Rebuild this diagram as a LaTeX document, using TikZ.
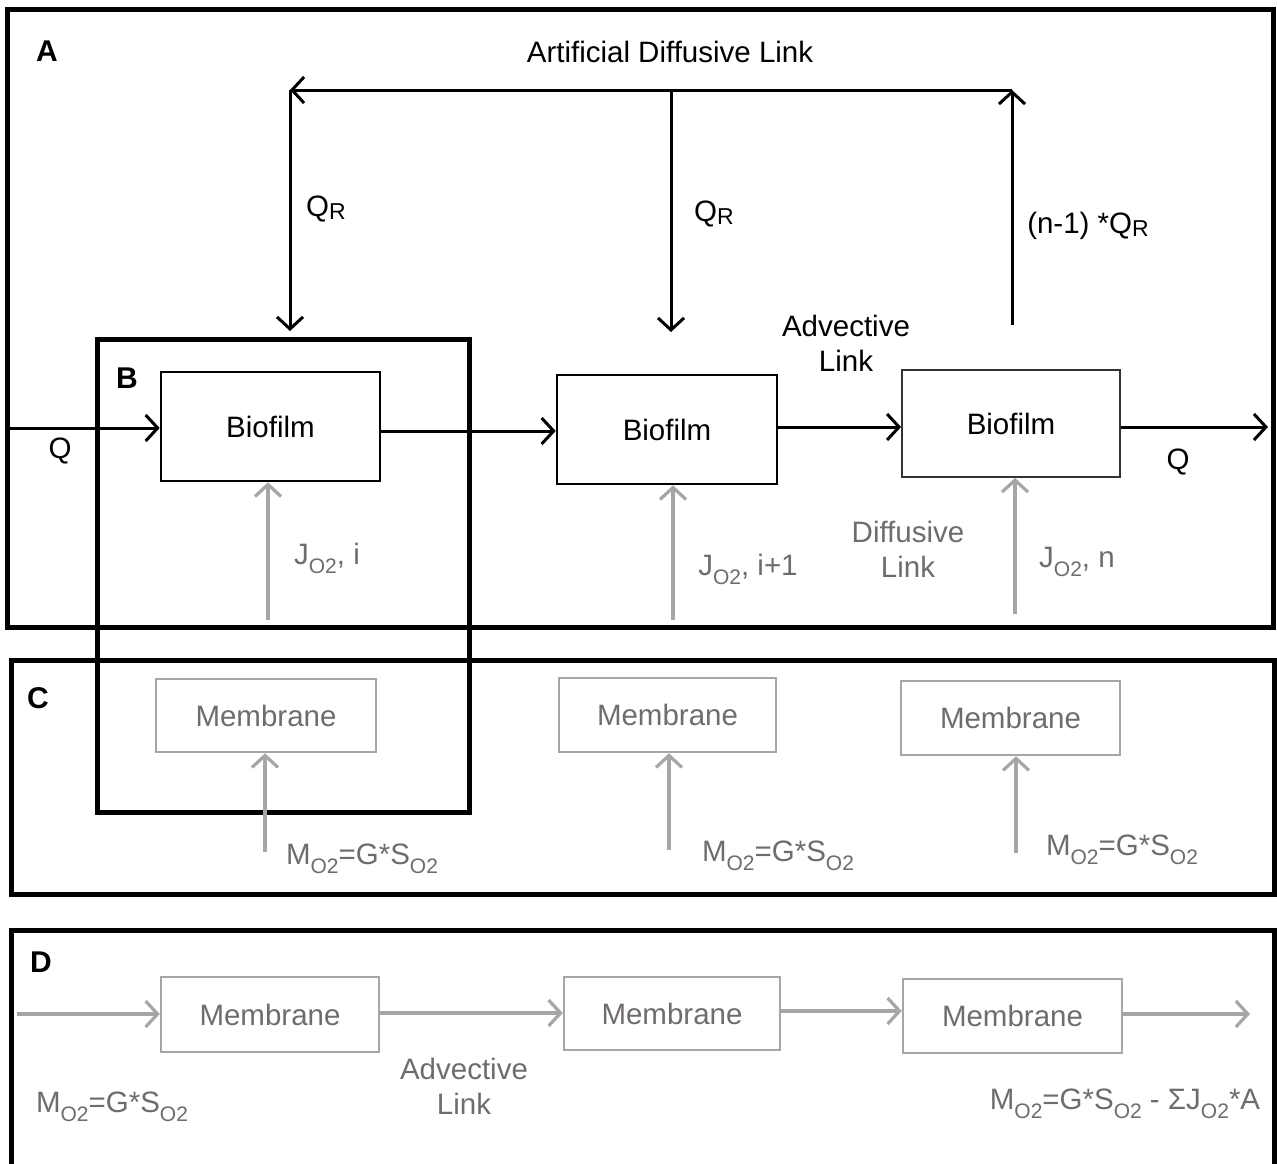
\documentclass[tikz,border=0pt]{standalone}
\usepackage{fontspec}
\setmainfont{Liberation Sans}
\usetikzlibrary{arrows.meta}
\definecolor{lgray}{HTML}{A6A6A6}
\definecolor{tgray}{HTML}{706C6C}
\newcommand{\lowsub}[1]{\raisebox{-9pt}{\fontsize{21}{21}\selectfont #1}}
\newcommand{\rsub}[1]{\raisebox{-3pt}{\fontsize{23}{23}\selectfont #1}}
\begin{document}
\begin{tikzpicture}[x=1pt,y=-1pt,
  every node/.style={font=\fontsize{29.5}{35}\selectfont, inner sep=0pt},
  panel/.style={draw, line width=5pt},
  bio/.style={draw, line width=2.6pt, minimum width=219pt, minimum height=109pt},
  mem/.style={draw=lgray, line width=2.5pt, text=tgray, minimum width=219pt, minimum height=74pt},
  barrow/.style={line width=3pt, -{Straight Barb[length=12pt,width=26pt,line width=3pt]}},
  garrow/.style={draw=lgray, line width=3.2pt, -{Straight Barb[length=12pt,width=26pt,line width=3.2pt]}},
  plabel/.style={font=\fontsize{30}{35}\selectfont\bfseries},
  glabel/.style={text=tgray, align=center},
]
\useasboundingbox (0,0) rectangle (1277,1164);
\fill[white] (0,0) rectangle (1277,1164);

% panels
\draw[panel] (7,10) rectangle (1273,627);
\draw[panel] (11,660) rectangle (1274,894);
\draw[panel] (11,930) rectangle (1274,1166);
\draw[panel] (97,339) rectangle (469,812);

\node[plabel] (lA) at (47,51) {A};
\node[plabel] (lB) at (127,378) {B};
\node[plabel] (lC) at (38,698) {C};
\node[plabel] (lD) at (41,962) {D};

% Panel A
\node (adl) at (670,52) {Artificial Diffusive Link};
\node[bio] (b1) at (270.5,426.5) {Biofilm};
\node[bio, minimum width=220pt] (b2) at (667,429.5) {Biofilm};
\node[bio, draw=black!80, line width=1.8pt, minimum width=218pt, minimum height=107pt] (b3) at (1011,423.5) {Biofilm};

\coordinate (tl) at (290,90);
\coordinate (tm) at (671,90);
\coordinate (tr) at (1012,90);
\coordinate (d1) at (290,331);
\coordinate (d2) at (671,332);
\coordinate (u3) at (1012,325);
\coordinate (qin) at (10,428);
\coordinate (qout) at (1268,427);

\draw[barrow] (tr) -- (tl);
\draw[barrow] (tl) -- (d1);
\draw[barrow] (tm) -- (d2);
\draw[barrow] (u3) -- (tr);

\node (qr1) at (326,209) {Q\rsub{R}};
\node (qr2) at (714,214) {Q\rsub{R}};
\node (qr3) at (1088,226) {(n-1) *Q\rsub{R}};

\node[align=center] (adv) at (846,343) {Advective\\Link};

\draw[barrow] (qin) -- (qin -| b1.west);
\draw[barrow] (b1.east |- 0,431) -- (b2.west |- 0,431);
\draw[barrow] (b2.east |- 0,427) -- (b3.west |- 0,427);
\draw[barrow] (b3.east |- qout) -- (qout);

\node (q1) at (60,451) {Q};
\node (q2) at (1178,462) {Q};

\coordinate (j1) at (268,620);
\coordinate (j2) at (673,620);
\coordinate (j3) at (1015,614);
\draw[garrow] (j1) -- (j1 |- b1.south);
\draw[garrow] (j2) -- (j2 |- b2.south);
\draw[garrow] (j3) -- (j3 |- b3.south);

\node[glabel] (jl1) at (327,558) {J\lowsub{O2}, i};
\node[glabel] (jl2) at (748,569) {J\lowsub{O2}, i+1};
\node[glabel] (jl3) at (1077,562) {J\lowsub{O2}, n};
\node[glabel] (dif) at (908,549) {Diffusive\\Link};

% Panel C
\node[mem, minimum width=220pt, minimum height=73pt] (m1) at (266,715.5) {Membrane};
\node[mem, minimum width=217pt] (m2) at (667.5,715) {Membrane};
\node[mem] (m3) at (1010.5,718) {Membrane};

\coordinate (c1) at (265,852);
\coordinate (c2) at (669,850);
\coordinate (c3) at (1016,853);
\draw[garrow] (c1) -- (c1 |- m1.south);
\draw[garrow] (c2) -- (c2 |- m2.south);
\draw[garrow] (c3) -- (c3 |- m3.south);

\node[glabel] (ml1) at (362,859) {M\lowsub{O2}=G*S\lowsub{O2}};
\node[glabel] (ml2) at (778,856) {M\lowsub{O2}=G*S\lowsub{O2}};
\node[glabel] (ml3) at (1122,850) {M\lowsub{O2}=G*S\lowsub{O2}};

% Panel D
\node[mem, minimum width=218pt, minimum height=75pt] (n1) at (270,1014.5) {Membrane};
\node[mem, minimum width=216pt, minimum height=73pt] (n2) at (672,1013.5) {Membrane};
\node[mem] (n3) at (1012.5,1016) {Membrane};

\coordinate (din) at (17,1014);
\coordinate (dout) at (1250,1014);
\draw[garrow] (din) -- (din -| n1.west);
\draw[garrow] (n1.east |- 0,1013) -- (n2.west |- 0,1013);
\draw[garrow] (n2.east |- 0,1011) -- (n3.west |- 0,1011);
\draw[garrow] (n3.east |- dout) -- (dout);

\node[glabel] (dl1) at (112,1107) {M\lowsub{O2}=G*S\lowsub{O2}};
\node[glabel] (dadv) at (464,1086) {Advective\\Link};
\node[glabel] (dl2) at (1125,1104) {M\lowsub{O2}=G*S\lowsub{O2} - ΣJ\lowsub{O2}*A};
\end{tikzpicture}
\end{document}
